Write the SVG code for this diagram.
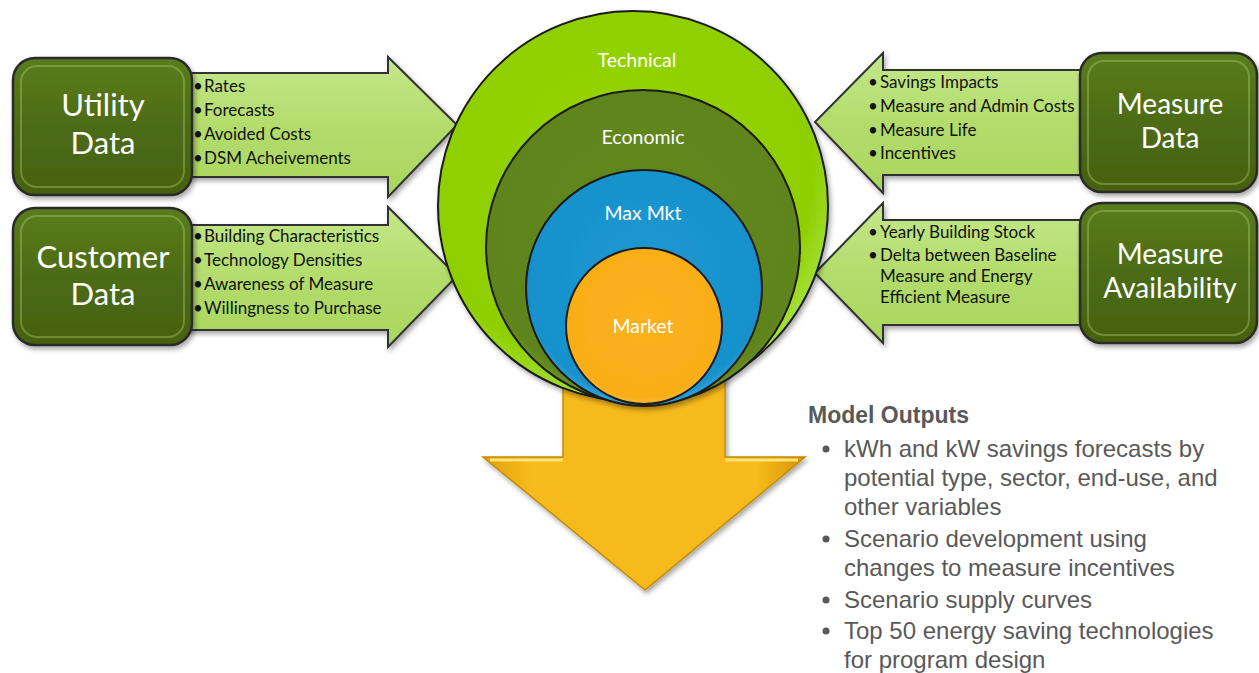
<svg xmlns="http://www.w3.org/2000/svg" width="1259" height="673" viewBox="0 0 1259 673">
<defs>
<linearGradient id="boxG" x1="0" y1="0" x2="0" y2="1">
<stop offset="0" stop-color="#5a7d1c"/><stop offset="0.5" stop-color="#4d6b15"/><stop offset="1" stop-color="#45610f"/>
</linearGradient>
<linearGradient id="arrG" x1="0" y1="0" x2="0" y2="1">
<stop offset="0" stop-color="#c4e78a"/><stop offset="0.5" stop-color="#b3dc6c"/><stop offset="1" stop-color="#a9d65e"/>
</linearGradient>
<radialGradient id="techG" cx="0.45" cy="0.4" r="0.6">
<stop offset="0" stop-color="#96d408"/><stop offset="0.85" stop-color="#8fcf00"/><stop offset="1" stop-color="#a5e03a"/>
</radialGradient>
<radialGradient id="econG" cx="0.5" cy="0.45" r="0.6">
<stop offset="0" stop-color="#62881c"/><stop offset="0.85" stop-color="#5e841a"/><stop offset="1" stop-color="#7ea33a"/>
</radialGradient>
<radialGradient id="maxG" cx="0.5" cy="0.45" r="0.6">
<stop offset="0" stop-color="#1d98d2"/><stop offset="0.85" stop-color="#1791cc"/><stop offset="1" stop-color="#5cbde6"/>
</radialGradient>
<radialGradient id="mktG" cx="0.5" cy="0.45" r="0.6">
<stop offset="0" stop-color="#fbb21f"/><stop offset="0.85" stop-color="#f9ad18"/><stop offset="1" stop-color="#fcc860"/>
</radialGradient>
<linearGradient id="goldG" x1="0" y1="0" x2="1" y2="0">
<stop offset="0" stop-color="#e0a00c"/><stop offset="0.15" stop-color="#f7ba1c"/><stop offset="0.85" stop-color="#f7ba1c"/><stop offset="1" stop-color="#d6940a"/>
</linearGradient>
<filter id="sh" x="-10%" y="-10%" width="125%" height="130%">
<feDropShadow dx="2" dy="3" stdDeviation="2.5" flood-color="#000" flood-opacity="0.35"/>
</filter>
<style>
.box{fill:url(#boxG);stroke:#2c2c2c;stroke-width:2.5}
.hl{fill:none;stroke:#b9d67a;stroke-width:2;stroke-opacity:0.35}
.arr{fill:url(#arrG);stroke:#333;stroke-width:2}
.bt{font-family:Lato,"Open Sans",sans-serif;font-size:31px;fill:#fff;text-anchor:middle}
.bt2{font-family:Lato,"Open Sans",sans-serif;font-size:28px;fill:#fff;text-anchor:middle}
.li{font-family:Lato,"Open Sans",sans-serif;font-size:17px;fill:#111}
.ct{font-family:Lato,"Open Sans",sans-serif;font-size:19.5px;fill:#fff;text-anchor:middle}
.circ{stroke:#1a1a1a;stroke-width:2}
.mo{font-family:"Liberation Sans",Arial,sans-serif;fill:#595959}
</style>
</defs>
<rect width="1259" height="673" fill="#fff"/>

<g id="output-arrow" filter="url(#sh)">
<polygon points="563,370 725,370 725,457 805,457 645,590 483,457 563,457" fill="url(#goldG)" stroke="#c58c06" stroke-width="1.5"/>
<polyline points="490,460 563,460" stroke="#fde27a" stroke-width="3" fill="none"/>
<polyline points="725,460 798,460" stroke="#fde27a" stroke-width="3" fill="none"/>
</g>

<g id="connectors">
<g filter="url(#sh)">
<polygon class="arr" points="150,73 388,73 388,57 457,125 388,197 388,177 150,177"/>
<polygon class="arr" points="150,225 388,225 388,207 457,276 388,347 388,330 150,330"/>
<polygon class="arr" points="1120,70 883,70 883,53 815,122 883,193 883,175 1120,175"/>
<polygon class="arr" points="1120,220 883,220 883,203 815,273 883,343 883,325 1120,325"/>
</g>
</g>

<g id="potential-circles" filter="url(#sh)">
<circle id="technical" class="circ" cx="633" cy="206" r="195" fill="url(#techG)"/>
<circle id="economic" class="circ" cx="643" cy="247" r="157" fill="url(#econG)"/>
<circle id="maxmkt" class="circ" cx="644" cy="288" r="118" fill="url(#maxG)"/>
<circle id="market" class="circ" cx="644" cy="326" r="78" fill="url(#mktG)"/>
</g>
<g id="circle-labels">
<text class="ct" x="637" y="67">Technical</text>
<text class="ct" x="643" y="144">Economic</text>
<text class="ct" x="643" y="220">Max Mkt</text>
<text class="ct" x="643" y="333">Market</text>
</g>

<g id="utility-data">
<rect class="box" x="13" y="58" width="179" height="137" rx="22" filter="url(#sh)"/>
<rect class="hl" x="21" y="66" width="163" height="121" rx="16"/>
<text class="bt" x="103" y="116">Utility</text>
<text class="bt" x="103" y="154">Data</text>
</g>
<g id="utility-items">
<text class="li" x="193" y="92">•</text><text class="li" x="204" y="92">Rates</text>
<text class="li" x="193" y="116">•</text><text class="li" x="204" y="116">Forecasts</text>
<text class="li" x="193" y="140">•</text><text class="li" x="204" y="140">Avoided Costs</text>
<text class="li" x="193" y="164">•</text><text class="li" x="204" y="164">DSM Acheivements</text>
</g>

<g id="customer-data">
<rect class="box" x="13" y="208" width="179" height="137" rx="22" filter="url(#sh)"/>
<rect class="hl" x="21" y="216" width="163" height="121" rx="16"/>
<text class="bt" x="103" y="268">Customer</text>
<text class="bt" x="103" y="305">Data</text>
</g>
<g id="customer-items">
<text class="li" x="193" y="242">•</text><text class="li" x="204" y="242">Building Characteristics</text>
<text class="li" x="193" y="266">•</text><text class="li" x="204" y="266">Technology Densities</text>
<text class="li" x="193" y="290">•</text><text class="li" x="204" y="290">Awareness of Measure</text>
<text class="li" x="193" y="314">•</text><text class="li" x="204" y="314">Willingness to Purchase</text>
</g>

<g id="measure-data">
<rect class="box" x="1080" y="53" width="177" height="139" rx="22" filter="url(#sh)"/>
<rect class="hl" x="1088" y="61" width="161" height="123" rx="16"/>
<text class="bt2" x="1170" y="114">Measure</text>
<text class="bt2" x="1170" y="148">Data</text>
</g>
<g id="measure-data-items">
<text class="li" x="868" y="88">•</text><text class="li" x="880" y="88">Savings Impacts</text>
<text class="li" x="868" y="112">•</text><text class="li" x="880" y="112">Measure and Admin Costs</text>
<text class="li" x="868" y="136">•</text><text class="li" x="880" y="136">Measure Life</text>
<text class="li" x="868" y="159">•</text><text class="li" x="880" y="159">Incentives</text>
</g>

<g id="measure-availability">
<rect class="box" x="1080" y="203" width="177" height="140" rx="22" filter="url(#sh)"/>
<rect class="hl" x="1088" y="211" width="161" height="124" rx="16"/>
<text class="bt2" x="1170" y="264">Measure</text>
<text class="bt2" x="1170" y="298">Availability</text>
</g>
<g id="measure-availability-items">
<text class="li" x="868" y="238">•</text><text class="li" x="880" y="238">Yearly Building Stock</text>
<text class="li" x="868" y="261">•</text><text class="li" x="880" y="261">Delta between Baseline</text>
<text class="li" x="880" y="282">Measure and Energy</text>
<text class="li" x="880" y="303">Efficient Measure</text>
</g>

<g id="model-outputs">
<text class="mo" x="808" y="423" font-size="23" font-weight="bold">Model Outputs</text>
<g class="mo" font-size="24">
<circle cx="826" cy="449" r="3.5" fill="#595959"/>
<text x="844" y="457">kWh and kW savings forecasts by</text>
<text x="844" y="486">potential type, sector, end-use, and</text>
<text x="844" y="515">other variables</text>
<circle cx="826" cy="539" r="3.5" fill="#595959"/>
<text x="844" y="547">Scenario development using</text>
<text x="844" y="576">changes to measure incentives</text>
<circle cx="826" cy="600" r="3.5" fill="#595959"/>
<text x="844" y="608">Scenario supply curves</text>
<circle cx="826" cy="631" r="3.5" fill="#595959"/>
<text x="844" y="639">Top 50 energy saving technologies</text>
<text x="844" y="668">for program design</text>
</g>
</g>
</svg>
